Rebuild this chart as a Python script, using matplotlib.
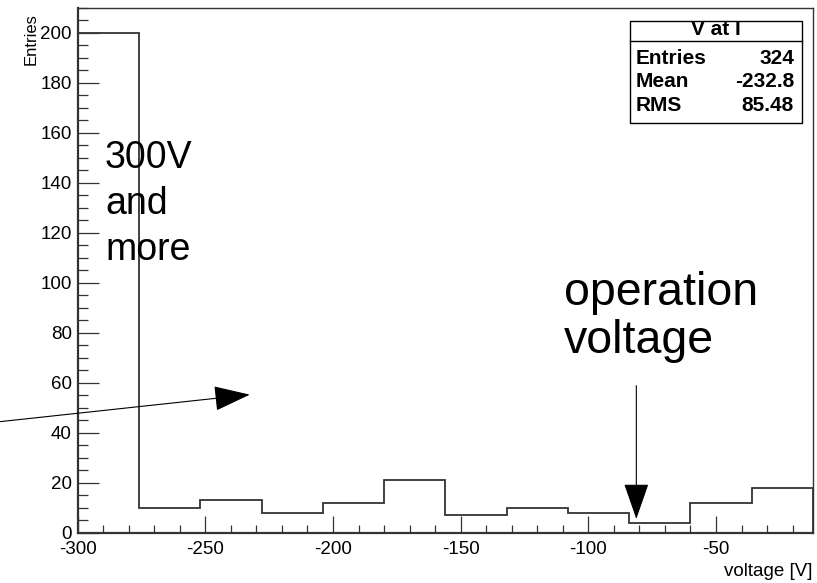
import numpy as np
import matplotlib.pyplot as plt
from matplotlib.ticker import MultipleLocator
from matplotlib.patches import Rectangle
from matplotlib.lines import Line2D

plt.rcParams['font.family'] = ['Liberation Sans', 'DejaVu Sans']
plt.rcParams['axes.unicode_minus'] = False

# histogram "V at I": 12 bins of 24 V between -300 and -12
bin_edges = [-300, -276, -252, -228, -204, -180, -156, -132, -108, -84, -60, -36, -12]
counts = [200, 10, 13, 8, 12, 21, 7, 10, 8, 4, 12, 18]

stat_names = ['Entries', 'Mean', 'RMS']
stat_values = ['324', '-232.8', '85.48']

# annotation arrows (data coordinates: start -> tip)
arrow_high = ((-330.4, 44.4), (-232.6, 55.2))
arrow_op = ((-81.2, 58.8), (-81.2, 5.5))

fig = plt.figure(figsize=(8.17, 5.83), dpi=100)
ax = fig.add_axes([0.0951, 0.0863, 0.9000, 0.9008])

ax.stairs(counts, bin_edges, color='#333333', linewidth=1.3)

ax.set_xlim(-300, -12)
ax.set_ylim(0, 210)

# ROOT-like axes
ax.xaxis.set_major_locator(MultipleLocator(50))
ax.xaxis.set_minor_locator(MultipleLocator(10))
ax.yaxis.set_major_locator(MultipleLocator(20))
ax.yaxis.set_minor_locator(MultipleLocator(5))
ax.tick_params(axis='x', which='major', direction='in', length=12.2, width=0.9,
               color='#333333', labelsize=13.5, pad=6.2)
ax.tick_params(axis='x', which='minor', direction='in', length=6, width=0.9, color='#333333')
ax.tick_params(axis='y', which='major', direction='in', length=15, width=0.9,
               color='#333333', labelsize=13.5, pad=4.3)
ax.tick_params(axis='y', which='minor', direction='in', length=7.5, width=0.9, color='#333333')
for side in ['left', 'bottom']:
    ax.spines[side].set_linewidth(1.6)
    ax.spines[side].set_color('#333333')
for side in ['top', 'right']:
    ax.spines[side].set_linewidth(1.0)
    ax.spines[side].set_color('#333333')

ax.set_xlabel('voltage [V]', fontsize=13.5)
ax.xaxis.set_label_coords(1.0, -0.058)
ax.xaxis.label.set_ha('right')
ax.xaxis.label.set_va('top')

ax.set_ylabel('Entries', fontsize=12)
ax.yaxis.set_label_coords(-0.053, 0.99)
ax.yaxis.label.set_ha('right')

# annotations
ax.text(-289.3, 157, '300V\nand\nmore', fontsize=27, ha='left', va='top', linespacing=1.36)
ax.text(-109.5, 104.5, 'operation\nvoltage', fontsize=33.5, ha='left', va='top', linespacing=1.12)

for start, tip in [arrow_high, arrow_op]:
    ax.annotate('', xy=tip, xytext=start, annotation_clip=False,
                arrowprops=dict(arrowstyle='-|>,head_length=2.3,head_width=0.8',
                                mutation_scale=10, color='black', linewidth=0.8,
                                shrinkA=0, shrinkB=0, clip_on=False))

# stats box
box_l, box_r, box_b, box_t = 0.7711, 0.9813, 0.7885, 0.9645
fig.patches.append(Rectangle((box_l, box_b), box_r - box_l, box_t - box_b,
                             transform=fig.transFigure, facecolor='white',
                             edgecolor='black', linewidth=1.0))
fig.lines.append(Line2D([box_l, box_r], [0.9302, 0.9302], transform=fig.transFigure,
                        color='black', linewidth=1.0))
fig.text(0.8764, 0.940, 'V at I', fontsize=15, fontweight='bold', ha='center', va='baseline')
for i, (name, val) in enumerate(zip(stat_names, stat_values)):
    yb = [0.8902, 0.8503, 0.8101][i]
    fig.text(0.7785, yb, name, fontsize=15, fontweight='bold', ha='left', va='baseline')
    fig.text(0.9718, yb, val, fontsize=15, fontweight='bold', ha='right', va='baseline')

fig.savefig('out.png', dpi=100)
